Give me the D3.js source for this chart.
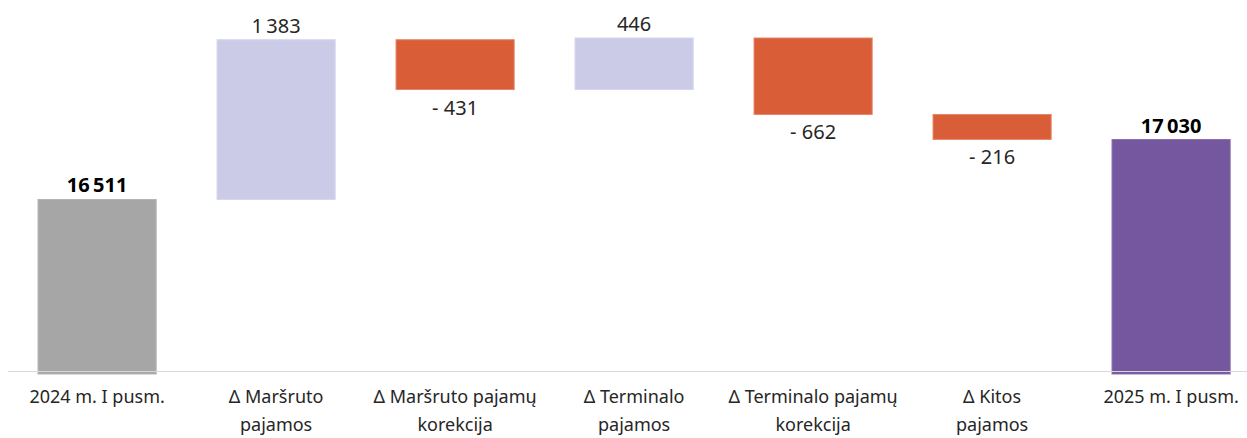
<!DOCTYPE html>
<html>
<head>
<meta charset="utf-8">
<script src="https://cdn.jsdelivr.net/npm/d3@7"></script>
<style>
  body { margin: 0; background: #ffffff; }
</style>
</head>
<body>
<div id="chart"></div>
<script>
// Categories, shown on two lines where the original wraps them
const categories = ["2024", "route", "routeCorr", "terminal", "terminalCorr", "other", "2025"];
const tickLines = [
    ["2024 m. I pusm."],
    ["Δ Maršruto", "pajamos"],
    ["Δ Maršruto pajamų", "korekcija"],
    ["Δ Terminalo", "pajamos"],
    ["Δ Terminalo pajamų", "korekcija"],
    ["Δ Kitos", "pajamos"],
    ["2025 m. I pusm."]
];
const values = [16511, 1383, -431, 446, -662, -216, 17030];
const kinds = ["start", "delta", "delta", "delta", "delta", "delta", "end"];
const axisStart = 15000; // value axis does not begin at zero

const width = 1247, height = 438;
const fontFamily = "'Noto Sans', 'Open Sans', sans-serif";

const svg = d3.select("#chart").append("svg")
    .attr("width", width)
    .attr("height", height)
    .style("display", "block")
    .attr("font-family", fontFamily);

// Build the waterfall steps
let running = 0;
const steps = values.map((v, i) => {
    let from, to;
    if (kinds[i] === "delta") {
        from = running;
        to = running + v;
    } else {
        from = axisStart;
        to = v;
    }
    running = to;
    return {key: categories[i], value: v, kind: kinds[i], from, to, lines: tickLines[i]};
});

const x = d3.scaleBand()
    .domain(categories)
    .range([7.6, 1260.6])
    .paddingInner(0.34)
    .paddingOuter(0.17);

const y = d3.scaleLinear()
    .domain([axisStart, d3.max(steps, d => Math.max(d.from, d.to))])
    .range([374, 38]);

const fill = d => {
    if (d.kind === "start") return "#a6a6a6";
    if (d.kind === "end") return "#7557a0";
    return d.value >= 0 ? "#cbcbe8" : "#d95d37";
};
const edge = d => {
    if (d.kind === "start") return "#b4b4b4";
    if (d.kind === "end") return "#8a70b0";
    return d.value >= 0 ? "#d6d6ee" : "#e7856a";
};

const locale = d3.formatLocale({decimal: ",", thousands: "\u2009", grouping: [3], currency: ["", ""], minus: "- "});
const fmt = locale.format(",d");

// Bars
svg.append("g")
    .selectAll("rect")
    .data(steps)
    .join("rect")
    .attr("x", d => x(d.key))
    .attr("y", d => y(Math.max(d.from, d.to)))
    .attr("width", x.bandwidth())
    .attr("height", d => Math.abs(y(d.from) - y(d.to)))
    .attr("fill", fill)
    .attr("stroke", edge)
    .attr("stroke-width", 1);

// Category axis
const axis = svg.append("g")
    .attr("transform", "translate(0,371)")
    .call(d3.axisBottom(x).tickSize(0).tickSizeOuter(0).tickFormat(""));

axis.select(".domain")
    .attr("d", "M8,0.5H1247")
    .attr("stroke", "#d9d9d9")
    .attr("stroke-width", 1.2);

axis.selectAll(".tick text").remove();
axis.selectAll(".tick")
    .append("text")
    .attr("fill", "#262626")
    .attr("font-family", fontFamily)
    .attr("font-size", 18)
    .attr("text-anchor", "middle")
    .attr("y", 32)
    .each(function(k) {
        const lines = steps.find(s => s.key === k).lines;
        d3.select(this).selectAll("tspan")
            .data(lines)
            .join("tspan")
            .attr("x", 0)
            .attr("dy", (l, i) => i === 0 ? 0 : 27.5)
            .text(l => l);
    });

// Value labels: above for rises and totals, below for drops
svg.append("g")
    .selectAll("text")
    .data(steps)
    .join("text")
    .attr("x", d => x(d.key) + x.bandwidth() / 2)
    .attr("y", d => d.value >= 0 || d.kind !== "delta"
        ? y(Math.max(d.from, d.to)) - 7
        : y(Math.min(d.from, d.to)) + 25)
    .attr("text-anchor", "middle")
    .attr("font-size", 20)
    .attr("font-weight", d => d.kind === "delta" ? 400 : 700)
    .attr("fill", d => d.kind === "delta" ? "#262626" : "#000000")
    .text(d => fmt(d.value));
</script>
</body>
</html>
